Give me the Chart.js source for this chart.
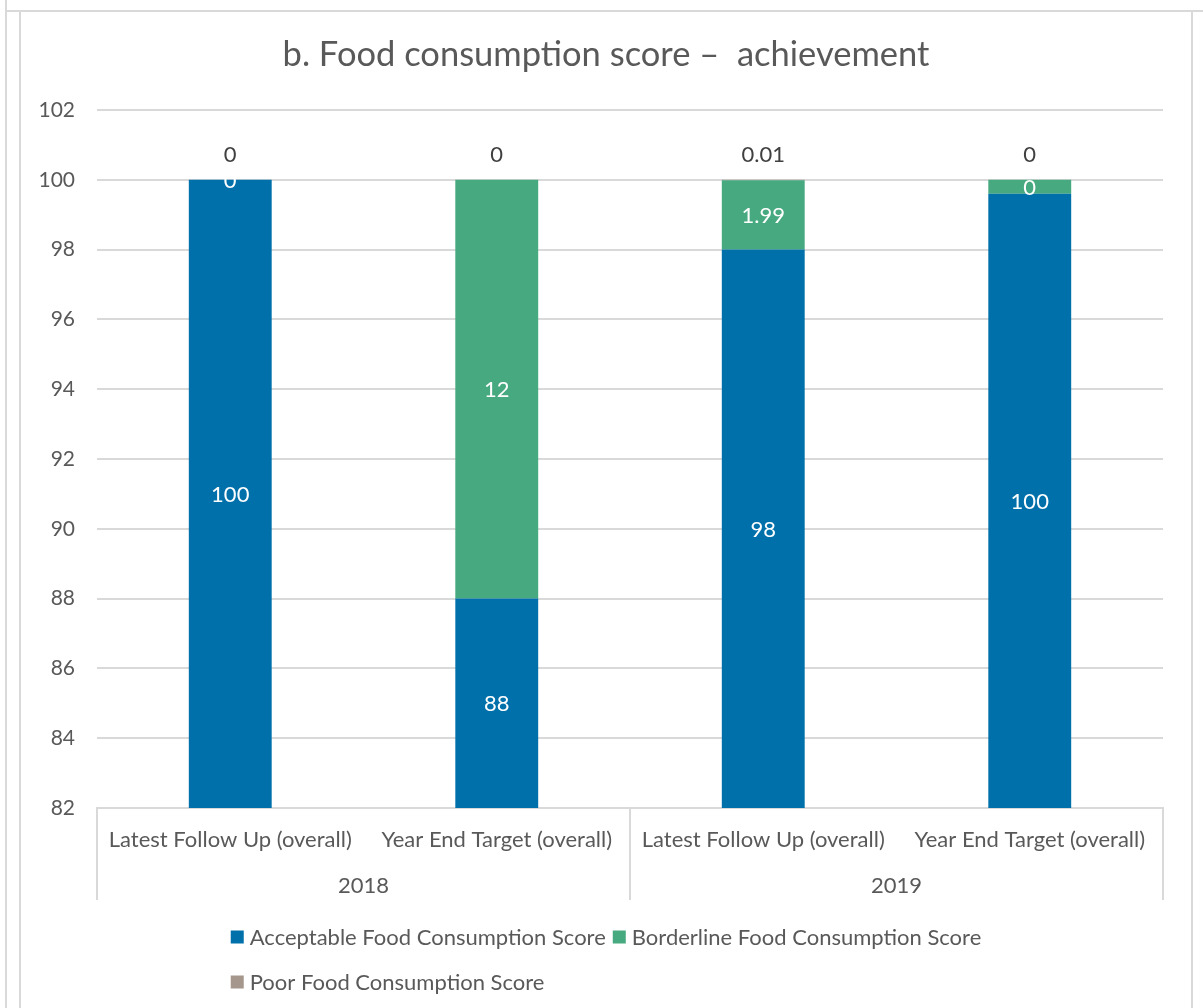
<!DOCTYPE html>
<html>
<head>
<meta charset="utf-8">
<title>b. Food consumption score – achievement</title>
<script src="https://cdn.jsdelivr.net/npm/chart.js@4.4.1/dist/chart.umd.min.js"></script>
<style>
  html, body { margin: 0; padding: 0; background: #ffffff; }
  canvas { display: block; }
</style>
</head>
<body>
<canvas id="chart" width="1203" height="1008"></canvas>
<script>
// Bars, one per category; categories are grouped by year on the x axis
const categories = [
  'Latest Follow Up (overall)',
  'Year End Target (overall)',
  'Latest Follow Up (overall)',
  'Year End Target (overall)'
];
const yearGroups = ['2018', '2019'];

const seriesNames = [
  'Acceptable Food Consumption Score',
  'Borderline Food Consumption Score',
  'Poor Food Consumption Score'
];
const acceptable = [100, 88, 98, 99.6];
const borderline = [0, 12, 1.99, 0.4];
const poor       = [0, 0, 0.01, 0];

// Target columns carry a whole-number format in the source table
const wholeNumberLabels = [false, true, false, true];

const yMin = 82;
const yMax = 102;
const yStep = 2;

const chartTitle = 'b. Food consumption score –  achievement';

const COLORS = ['#0070AA', '#47A97F', '#A5978B'];
const TEXT = '#595959';
const LINE = '#d9d9d9';
const FONT = 'Lato, "Open Sans", sans-serif';
const FS = 22;

// Chart frame spans x 20..1192; title and legend are centred on it
const FRAME_LEFT = 20, FRAME_RIGHT = 1192;

function formatLabel(v, i) {
  if (wholeNumberLabels[i]) return String(Math.round(v));
  return String(+v.toFixed(2));
}

// Page and chart borders
const framePlugin = {
  id: 'frame',
  beforeDraw(chart) {
    const ctx = chart.ctx;
    const W = chart.width, H = chart.height;
    ctx.save();
    ctx.fillStyle = '#ffffff';
    ctx.fillRect(0, 0, W, H);
    ctx.strokeStyle = LINE;
    ctx.lineWidth = 2;
    ctx.beginPath();
    ctx.moveTo(6, 0); ctx.lineTo(6, H);
    ctx.moveTo(6, 11); ctx.lineTo(W, 11);
    ctx.moveTo(FRAME_LEFT, 11); ctx.lineTo(FRAME_LEFT, H);
    ctx.moveTo(FRAME_RIGHT, 11); ctx.lineTo(FRAME_RIGHT, H);
    ctx.stroke();
    ctx.restore();
  }
};

// Title centred on the whole chart frame
const titlePlugin = {
  id: 'frameTitle',
  afterDraw(chart) {
    const ctx = chart.ctx;
    ctx.save();
    ctx.fillStyle = TEXT;
    ctx.font = '34.5px ' + FONT;
    ctx.textAlign = 'center';
    ctx.textBaseline = 'middle';
    ctx.fillText(chartTitle, (FRAME_LEFT + FRAME_RIGHT) / 2, 55);
    ctx.restore();
  }
};

// Second level of the category axis: year groups with separators
const groupAxisPlugin = {
  id: 'groupAxis',
  afterDraw(chart) {
    const xs = chart.scales.x;
    const ctx = chart.ctx;
    const per = categories.length / yearGroups.length;
    ctx.save();
    ctx.strokeStyle = LINE;
    ctx.lineWidth = 2;
    ctx.beginPath();
    for (let g = 0; g <= yearGroups.length; g++) {
      const px = Math.round(xs.getPixelForValue(g * per - 0.5));
      ctx.moveTo(px, xs.top);
      ctx.lineTo(px, xs.top + 92);
    }
    ctx.stroke();
    ctx.fillStyle = TEXT;
    ctx.font = FS + 'px ' + FONT;
    ctx.textAlign = 'center';
    ctx.textBaseline = 'middle';
    yearGroups.forEach((yr, g) => {
      const a = xs.getPixelForValue(g * per - 0.5);
      const b = xs.getPixelForValue((g + 1) * per - 0.5);
      ctx.fillText(yr, (a + b) / 2, xs.top + 78);
    });
    ctx.restore();
  }
};

// Value labels on each segment; the last series sits above the stack
const valueLabelPlugin = {
  id: 'valueLabels',
  afterDatasetsDraw(chart) {
    const ctx = chart.ctx;
    const area = chart.chartArea;
    ctx.save();
    ctx.font = FS + 'px ' + FONT;
    ctx.textAlign = 'center';
    ctx.textBaseline = 'middle';
    chart.data.datasets.forEach((ds, di) => {
      const meta = chart.getDatasetMeta(di);
      meta.data.forEach((bar, i) => {
        const v = ds.data[i];
        const txt = formatLabel(v, i);
        if (di === chart.data.datasets.length - 1) {
          ctx.fillStyle = '#404040';
          ctx.fillText(txt, bar.x, Math.min(bar.y, bar.base) - 25);
        } else {
          const top = Math.max(Math.min(bar.y, bar.base), area.top);
          const bot = Math.min(Math.max(bar.y, bar.base), area.bottom);
          ctx.fillStyle = '#ffffff';
          ctx.fillText(txt, bar.x, (top + bot) / 2 + 1);
        }
      });
    });
    ctx.restore();
  }
};

// Legend: first row centred, following rows start where the first row starts
const legendPlugin = {
  id: 'bottomLegend',
  afterDraw(chart) {
    const ctx = chart.ctx;
    const box = 13, gapText = 6, gapItem = 7, maxRow = 900;
    ctx.save();
    ctx.font = FS + 'px ' + FONT;
    ctx.textBaseline = 'middle';
    const items = chart.data.datasets.map(d => ({
      text: d.label, color: d.backgroundColor,
      w: box + gapText + ctx.measureText(d.label).width
    }));
    const rows = [[]];
    let rw = 0;
    items.forEach(it => {
      const add = (rows[rows.length - 1].length ? gapItem : 0) + it.w;
      if (rows[rows.length - 1].length && rw + add > maxRow) {
        rows.push([it]); rw = it.w;
      } else {
        rows[rows.length - 1].push(it); rw += add;
      }
    });
    const firstW = rows[0].reduce((s, it, k) => s + it.w + (k ? gapItem : 0), 0);
    const cx = (FRAME_LEFT + FRAME_RIGHT) / 2;
    const startX = cx - firstW / 2;
    rows.forEach((row, r) => {
      let x = startX;
      const y = 937 + r * 45;
      row.forEach(it => {
        ctx.fillStyle = it.color;
        ctx.fillRect(x, y - box / 2, box, box);
        ctx.fillStyle = TEXT;
        ctx.fillText(it.text, x + box + gapText, y + 1);
        x += it.w + gapItem;
      });
    });
    ctx.restore();
  }
};

const seriesData = [acceptable, borderline, poor];

new Chart(document.getElementById('chart'), {
  type: 'bar',
  data: {
    labels: categories,
    datasets: seriesNames.map((name, k) => ({
      label: name,
      data: seriesData[k],
      backgroundColor: COLORS[k],
      borderWidth: 0,
      barPercentage: 0.311,
      categoryPercentage: 1.0
    }))
  },
  options: {
    responsive: false,
    animation: false,
    devicePixelRatio: 1,
    layout: { padding: { left: 20, right: 40, top: 110, bottom: 100 } },
    plugins: {
      legend: { display: false },
      tooltip: { enabled: false },
      title: { display: false }
    },
    scales: {
      x: {
        stacked: true,
        grid: { display: false, drawTicks: false },
        border: { display: true, color: LINE, width: 2 },
        ticks: {
          color: TEXT,
          font: { family: FONT, size: FS },
          padding: 19,
          maxRotation: 0,
          autoSkip: false
        },
        afterFit(scale) { scale.height = 100; }
      },
      y: {
        stacked: true,
        min: yMin,
        max: yMax,
        grid: { color: LINE, lineWidth: 2, drawTicks: false },
        border: { display: false },
        ticks: {
          stepSize: yStep,
          color: TEXT,
          font: { family: FONT, size: 21 },
          padding: 22
        },
        afterFit(scale) { scale.width = 77; }
      }
    }
  },
  plugins: [framePlugin, titlePlugin, groupAxisPlugin, valueLabelPlugin, legendPlugin]
});
</script>
</body>
</html>
